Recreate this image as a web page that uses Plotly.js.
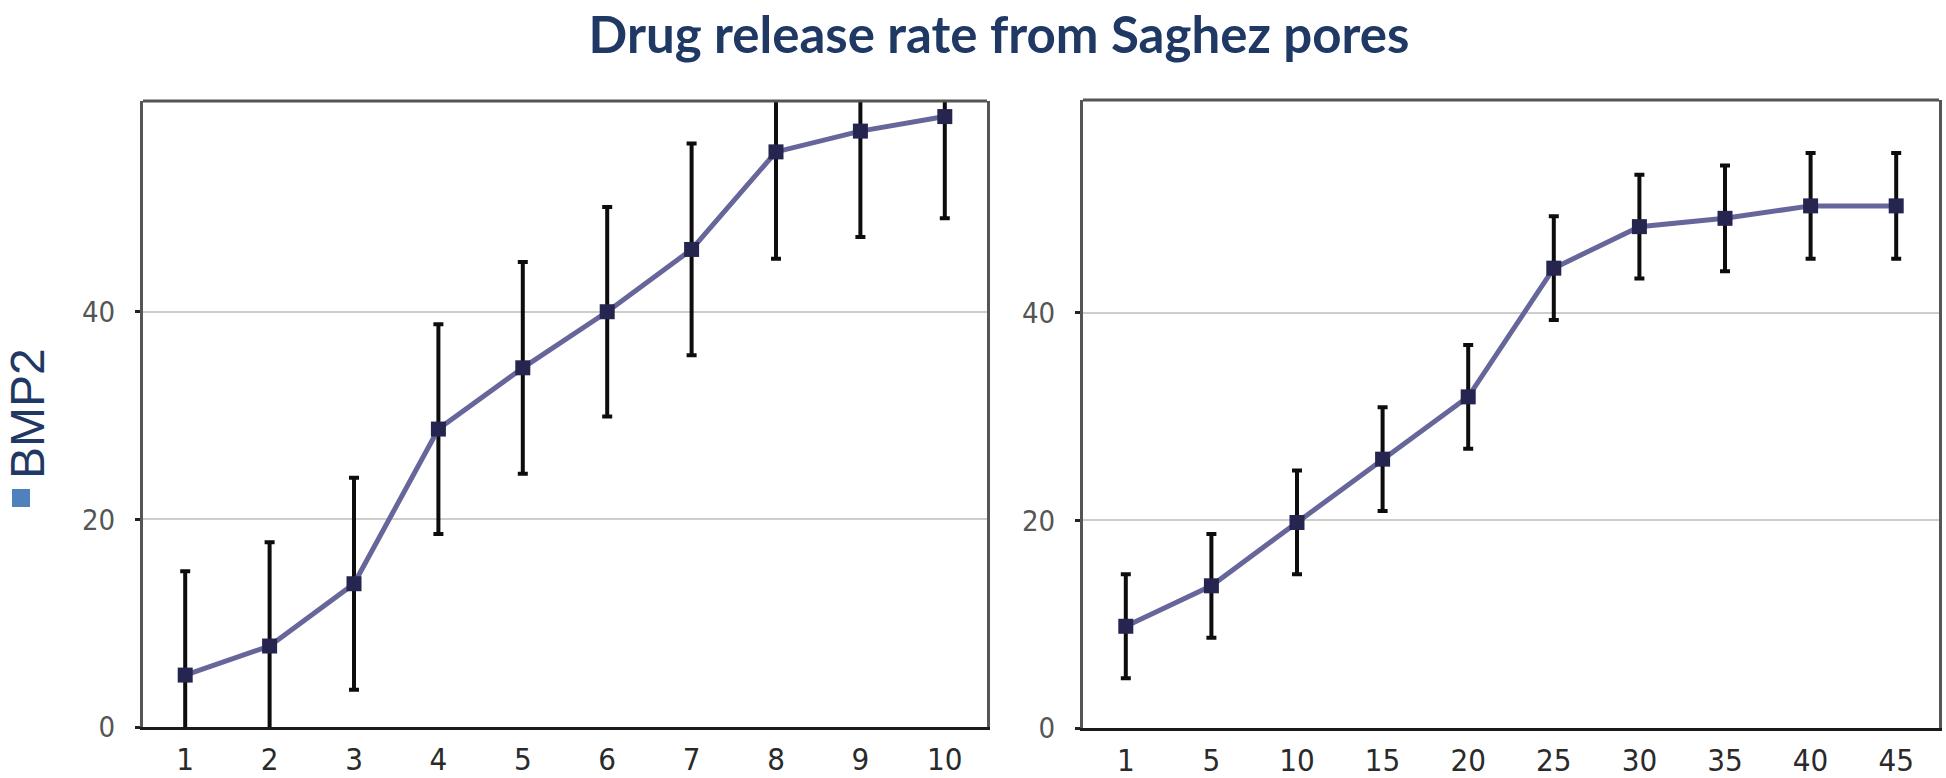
<!DOCTYPE html>
<html>
<head>
<meta charset="utf-8">
<script src="https://cdn.plot.ly/plotly-3.0.1.min.js"></script>
<style>
	body{margin:0;background:#fff;}
	#chart{width:1946px;height:778px;}
</style>
</head>
<body>
<div id="chart"></div>
<script>
// left panel: days 1..10
const daysA = [1, 2, 3, 4, 5, 6, 7, 8, 9, 10];
const releaseA = [5.0, 7.8, 13.8, 28.7, 34.6, 40.0, 46.0, 55.4, 57.4, 58.8];
const errA = [10, 10, 10.2, 10.1, 10.2, 10.1, 10.2, 10.3, 10.2, 9.8];

// right panel: days 1, 5, ..., 45
const daysB = ["1", "5", "10", "15", "20", "25", "30", "35", "40", "45"];
const releaseB = [9.8, 13.7, 19.8, 25.9, 31.9, 44.3, 48.3, 49.1, 50.3, 50.3];
const errB = [5, 5, 5, 5, 5, 5, 5, 5.1, 5.1, 5.1];

const yTicks = [0, 20, 40];

const W = 1946, H = 778;
const narrow = "Liberation Sans Narrow, Arial Narrow, DejaVu Sans Condensed, sans-serif";

const makeTrace = (x, y, err, xa, ya) => ({
	x, y,
	xaxis: xa, yaxis: ya,
	type: "scatter",
	mode: "lines+markers",
	line: {color: "#66669a", width: 5},
	marker: {symbol: "square", size: 15, color: "#25254f"},
	error_y: {type: "data", array: err, visible: true, color: "#0d0d0d", thickness: 4, width: 5},
	showlegend: false,
	hoverinfo: "x+y"
});

const xAxis = (left, right, extra) => Object.assign({
	domain: [left / W, right / W],
	showgrid: false,
	zeroline: false,
	showline: true,
	linecolor: "#1a1a1a",
	linewidth: 3,
	ticks: "",
	ticklabelstandoff: 3,
	tickfont: {family: narrow, size: 31, color: "#2a2a2a"},
	fixedrange: true
}, extra);

const yAxis = (top, bottom, topVal, extra) => Object.assign({
	domain: [(H - bottom) / H, (H - top) / H],
	range: [0, topVal],
	tickvals: yTicks,
	showgrid: true,
	gridcolor: "#cdcdcd",
	gridwidth: 2,
	zeroline: false,
	showline: true,
	mirror: true,
	linecolor: "#555",
	linewidth: 3,
	ticks: "outside",
	ticklen: 5,
	tickwidth: 3,
	tickcolor: "#222",
	ticklabelstandoff: 14,
	tickfont: {family: narrow, size: 29, color: "#555"},
	fixedrange: true
}, extra);

const data = [
	makeTrace(daysA, releaseA, errA, "x", "y"),
	makeTrace(daysB, releaseB, errB, "x2", "y2")
];

const layout = {
	width: W,
	height: H,
	margin: {l: 0, r: 0, t: 0, b: 0},
	paper_bgcolor: "#fff",
	plot_bgcolor: "#fff",
	title: {
		text: "Drug release rate from Saghez pores",
		font: {family: "Lato, Open Sans, sans-serif", size: 51, color: "#1f3864", weight: 700},
		x: 999 / W,
		xanchor: "center",
		xref: "paper",
		y: 1 - 35 / H,
		yanchor: "middle",
		yref: "container"
	},
	xaxis: xAxis(143, 987, {range: [0.5, 10.5], tickvals: daysA, anchor: "y"}),
	yaxis: yAxis(101, 727, 60.3, {anchor: "x"}),
	xaxis2: xAxis(1083, 1939, {type: "category", range: [-0.5, 9.5], anchor: "y2"}),
	yaxis2: yAxis(100, 728, 60.5, {anchor: "x2"}),
	annotations: [{
		text: "BMP2",
		xref: "paper", yref: "paper",
		x: 27 / W, y: 1 - 414 / H,
		xanchor: "center", yanchor: "middle",
		textangle: -90,
		showarrow: false,
		font: {family: "Liberation Sans, Arial, sans-serif", size: 48, color: "#1f3864"}
	}],
	shapes: [
		// top borders of both frames
		{type: "line", xref: "x domain", yref: "y domain", x0: 0, x1: 1, y0: 1, y1: 1, line: {color: "#555", width: 3}},
		{type: "line", xref: "x2 domain", yref: "y2 domain", x0: 0, x1: 1, y0: 1, y1: 1, line: {color: "#555", width: 3}},
		// legend swatch
		{type: "rect", xref: "paper", yref: "paper", x0: 12 / W, x1: 30 / W, y0: 1 - 507 / H, y1: 1 - 489 / H, fillcolor: "#4f81bd", line: {width: 0}}
	]
};

Plotly.newPlot("chart", data, layout, {displayModeBar: false, staticPlot: true});
</script>
</body>
</html>
